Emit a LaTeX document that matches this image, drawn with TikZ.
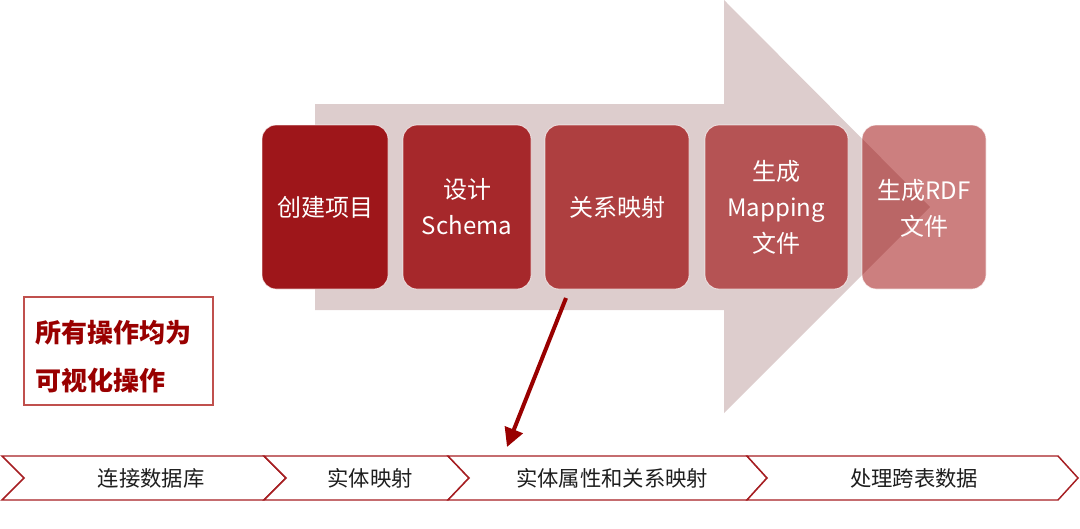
\documentclass[tikz,border=0pt]{standalone}
\usepackage{fontspec}
\setmainfont{Noto Sans CJK SC}
\usetikzlibrary{arrows.meta}
\definecolor{arrowbg}{RGB}{221,205,205}
\definecolor{cA}{RGB}{158,22,26}
\definecolor{cB}{RGB}{166,40,43}
\definecolor{cC}{RGB}{174,63,64}
\definecolor{cD}{RGB}{181,83,84}
\definecolor{cE}{RGB}{153,0,0}
\definecolor{chevred}{RGB}{166,30,34}
\definecolor{darkred}{RGB}{153,0,0}
\definecolor{boxred}{RGB}{192,80,77}
\tikzset{
  stepbox/.style={rounded corners=14*0.75pt, draw=white, draw opacity=0.7, line width=0.6pt,
    text=white, align=center, font=\fontsize{18}{27}\selectfont},
  chev/.style={draw=chevred, fill=white, line width=1.1pt, line join=miter},
  chevtext/.style={text={rgb,255:red,30;green,30;blue,30}, font=\fontsize{16}{20}\selectfont, anchor=center},
}
\begin{document}
\begin{tikzpicture}[x=0.75pt,y=-0.75pt]
\useasboundingbox (0,0) rectangle (1080,528);
% big background arrow
\fill[arrowbg] (315,104) -- (724,104) -- (724,0) -- (930,207) -- (724,413) -- (724,310) -- (315,310) -- cycle;
% step boxes
\path[stepbox, fill=cA] (262,125) rectangle (388,289);
\path[stepbox, fill=cB] (403,125) rectangle (531,289);
\path[stepbox, fill=cC] (545,125) rectangle (689,289);
\path[stepbox, fill=cD] (705,125) rectangle (848,289);
\path[stepbox, fill=cE, fill opacity=0.5] (862,125) rectangle (986,289);
\node[stepbox, draw=none] (s1) at (325,207) {创建项目};
\node[stepbox, draw=none] (s2) at (467,207) {设计\\Schema};
\node[stepbox, draw=none] (s3) at (617,207) {关系映射};
\node[stepbox, draw=none] (s4) at (776,207) {生成\\Mapping\\文件};
\node[stepbox, draw=none] (s5) at (924,208) {生成RDF\\文件};
% left note box
\draw[boxred, line width=0.8pt] (24,297) rectangle (213,405);
\node[anchor=west, align=left, text=darkred, font=\fontsize{19.5}{36}\bfseries\selectfont] (note) at (31,357) {所有操作均为\\可视化操作};
% bottom chevrons
\draw[chev] (2,456) -- (264,456) -- (286,478) -- (264,500) -- (2,500) -- (24,478) -- cycle;
\draw[chev] (264,456) -- (448,456) -- (469,478) -- (448,500) -- (264,500) -- (286,478) -- cycle;
\draw[chev] (448,456) -- (747,456) -- (767,478) -- (747,500) -- (448,500) -- (469,478) -- cycle;
\draw[chev] (747,456) -- (1058,456) -- (1078,478) -- (1058,500) -- (747,500) -- (767,478) -- cycle;
\node[chevtext] (c1) at (151,478) {连接数据库};
\node[chevtext] (c2) at (370,478) {实体映射};
\node[chevtext] (c3) at (612,478) {实体属性和关系映射};
\node[chevtext] (c4) at (914,478) {处理跨表数据};
% red pointer arrow
\coordinate (from) at (566,298);
\coordinate (to) at (507,447);
\draw[darkred, line width=3pt, -{Triangle[length=14pt,width=14pt]}] (from) -- (to);
\end{tikzpicture}
\end{document}
